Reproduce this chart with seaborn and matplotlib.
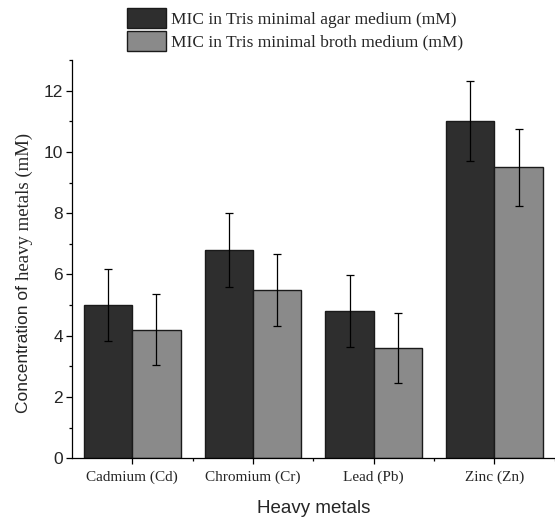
from matplotlib import pyplot as plt
from matplotlib.ticker import MultipleLocator, FixedLocator
import seaborn as sns
import pandas as pd
import numpy as np

metals = ['Cadmium (Cd)', 'Chromium (Cr)', 'Lead (Pb)', 'Zinc (Zn)']
agar_mic = [5.0, 6.8, 4.8, 11.0]
agar_err = [1.17, 1.2, 1.17, 1.3]
broth_mic = [4.2, 5.5, 3.6, 9.5]
broth_err = [1.17, 1.18, 1.15, 1.25]
labels = ['MIC in Tris minimal agar medium (mM)', 'MIC in Tris minimal broth medium (mM)']

df = pd.DataFrame({
    'metal': metals * 2,
    'mic': agar_mic + broth_mic,
    'err': agar_err + broth_err,
    'medium': [labels[0]] * 4 + [labels[1]] * 4,
})

sns.set_style('ticks')
plt.rcParams['font.family'] = ['Liberation Sans', 'DejaVu Sans']
serif = ['Liberation Serif', 'DejaVu Serif']

fig = plt.figure(figsize=(5.55, 5.19), dpi=100)
W, H = 555, 519
ax = fig.add_axes([72 / W, 1 - 458.3 / H, (554.8 - 72) / W, (458.3 - 60) / H])

colors = ['#2e2e2e', '#8a8a8a']
sns.barplot(data=df, x='metal', y='mic', hue='medium', palette=colors, width=0.8,
            errorbar=None, edgecolor='#1a1a1a', linewidth=1.0, ax=ax)

# error bars on top of the bars
errs = [agar_err, broth_err]
for cont, e in zip(ax.containers, errs):
    xs = [b.get_x() + b.get_width() / 2 for b in cont]
    ys = [b.get_height() for b in cont]
    ax.errorbar(xs, ys, yerr=e, fmt='none', ecolor='black', elinewidth=0.9,
                capsize=3, capthick=0.9, zorder=5)

ax.set_xlim(-0.5, 3.5)
ax.set_ylim(0, 13)
ax.yaxis.set_major_locator(FixedLocator([0, 2, 4, 6, 8, 10, 12]))
ax.yaxis.set_minor_locator(MultipleLocator(1))
ax.xaxis.set_minor_locator(FixedLocator([0.5, 1.5, 2.5, 3.5]))
sns.despine(ax=ax)
for s in ['left', 'bottom']:
    ax.spines[s].set_linewidth(0.9)
    ax.spines[s].set_color('black')
ax.tick_params(which='major', direction='out', length=4.5, width=0.9, color='black')
ax.tick_params(which='minor', direction='out', length=2.5, width=0.9, color='black')
ax.tick_params(axis='y', labelsize=12.5, pad=2)
ax.tick_params(axis='x', labelsize=11, pad=4)
for t in ax.get_xticklabels():
    t.set_family(serif)

ax.set_xlabel('Heavy metals', fontsize=13.5, labelpad=12)
ax.set_ylabel('')

# legend at the top of the figure
handles, _ = ax.get_legend_handles_labels()
ax.legend(handles, labels, loc='upper left', bbox_to_anchor=(127 / W, 1 - 8 / H),
          bbox_transform=fig.transFigure, frameon=False, prop={'family': serif, 'size': 12.5},
          handlelength=2.25, handleheight=1.4, handletextpad=0.3, labelspacing=0.15,
          borderpad=0, borderaxespad=0)

# y label with two fonts, as in the original
t1 = fig.text(24 / W, 1 - 413 / H, 'Concentration of', rotation=90, ha='center', va='bottom',
              fontsize=12.5)
renderer = fig.canvas.get_renderer()
bb = t1.get_window_extent(renderer)
top = bb.y1 + 5
fig.text(24 / W, top / fig.bbox.height, 'heavy metals (mM)', rotation=90, ha='center',
         va='bottom', fontsize=13.5, family=serif)

fig.savefig('out.png', dpi=100)
